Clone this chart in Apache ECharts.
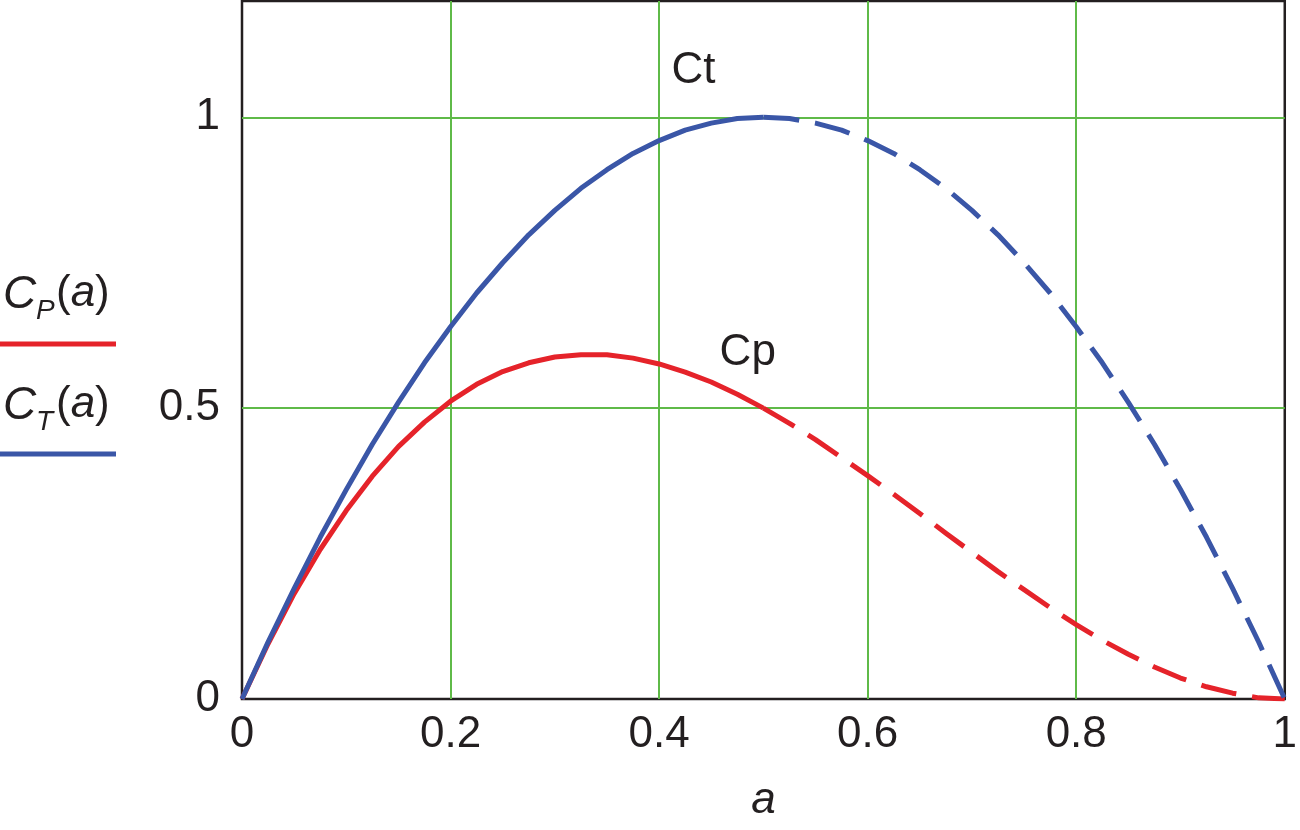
<!DOCTYPE html>
<html lang="en">
<head>
    <meta charset="UTF-8">
    <title>Cp / Ct</title>
    <script src="https://cdn.jsdelivr.net/npm/echarts@6/dist/echarts.min.js"></script>
</head>
<style type="text/css">
    html, body { margin: 0; padding: 0; background: #fff; }
    #main { width: 1300px; height: 830px; }
</style>
<body>
<div id="main"></div>
<script type="text/javascript">
    // values, a = 0 .. 1 step 0.025
    var aVals  = [0, 0.025, 0.05, 0.075, 0.1, 0.125, 0.15, 0.175, 0.2, 0.225, 0.25,
                  0.275, 0.3, 0.325, 0.35, 0.375, 0.4, 0.425, 0.45, 0.475, 0.5,
                  0.525, 0.55, 0.575, 0.6, 0.625, 0.65, 0.675, 0.7, 0.725, 0.75,
                  0.775, 0.8, 0.825, 0.85, 0.875, 0.9, 0.925, 0.95, 0.975, 1];
    var ctVals = [0, 0.098, 0.19, 0.278, 0.36, 0.438, 0.51, 0.578, 0.64, 0.698, 0.75,
                  0.798, 0.84, 0.878, 0.91, 0.938, 0.96, 0.978, 0.99, 0.998, 1.0,
                  0.998, 0.99, 0.978, 0.96, 0.938, 0.91, 0.878, 0.84, 0.798, 0.75,
                  0.698, 0.64, 0.578, 0.51, 0.438, 0.36, 0.278, 0.19, 0.098, 0];
    var cpVals = [0, 0.095, 0.181, 0.257, 0.324, 0.383, 0.434, 0.476, 0.512, 0.541, 0.563,
                  0.578, 0.588, 0.592, 0.592, 0.586, 0.576, 0.562, 0.545, 0.524, 0.5,
                  0.474, 0.446, 0.415, 0.384, 0.352, 0.319, 0.285, 0.252, 0.219, 0.188,
                  0.157, 0.128, 0.101, 0.077, 0.055, 0.036, 0.021, 0.01, 0.002, 0];
    var splitAt = 20; // solid up to a = 0.5, dashed after
    var xTicks = [0, 0.2, 0.4, 0.6, 0.8, 1];
    var yTicks = [0, 0.5, 1];

    var blue = '#3a56a7', red = '#e5232a', green = '#5fba48', ink = '#231f20';
    var font = '"Liberation Sans", Arial, Helvetica, sans-serif';

    function pairs(ys, from, to) {
        var out = [];
        for (var i = from; i <= to; i++) out.push([aVals[i], ys[i]]);
        return out;
    }

    function curve(ys, color, part) {
        var last = aVals.length - 1;
        return {
            type: 'line', smooth: false, symbol: 'none', silent: true,
            data: part === 'solid' ? pairs(ys, 0, splitAt) : pairs(ys, splitAt, last),
            lineStyle: { color: color, width: 5, type: part === 'solid' ? 'solid' : [36, 16], cap: 'butt', join: 'round' },
            z: 3
        };
    }

    var myChart = echarts.init(document.getElementById('main'));
    var ctSolid = curve(ctVals, blue, 'solid');
    ctSolid.markPoint = {
        symbol: 'circle', symbolSize: 0, silent: true,
        label: { show: true, formatter: 'Ct', color: ink, fontSize: 44, fontFamily: font, position: 'inside' },
        data: [{ coord: [0.433, 1.08] }]
    };
    var cpSolid = curve(cpVals, red, 'solid');
    cpSolid.markPoint = {
        symbol: 'circle', symbolSize: 0, silent: true,
        label: { show: true, formatter: 'Cp', color: ink, fontSize: 44, fontFamily: font, position: 'inside' },
        data: [{ coord: [0.485, 0.595] }]
    };

    var legendRich = {
        n: { fontSize: 44, fontFamily: font, color: ink },
        i: { fontSize: 44, fontFamily: font, fontStyle: 'italic', color: ink }
    };

    var option = {
        animation: false,
        backgroundColor: '#fff',
        grid: { left: 242, right: 13, top: 1, bottom: 131, show: true, borderColor: ink, borderWidth: 2.5 },
        xAxis: {
            type: 'value', min: 0, max: 1, interval: 0.2,
            name: 'a', nameLocation: 'middle', nameGap: 80,
            nameTextStyle: { fontSize: 44, fontStyle: 'italic', color: ink, fontFamily: font },
            axisLine: { show: false }, axisTick: { show: false },
            axisLabel: {
                margin: 14, fontSize: 44, color: ink, fontFamily: font,
                formatter: function (v) { var r = Math.round(v * 10) / 10; return xTicks.indexOf(r) >= 0 ? String(r) : ''; }
            },
            splitLine: { show: true, lineStyle: { width: 2, color: ['transparent', green, green, green, green, 'transparent'] } }
        },
        yAxis: {
            type: 'value', min: 0, max: 1.2, interval: 0.5,
            axisLine: { show: false }, axisTick: { show: false },
            axisLabel: {
                margin: 22, fontSize: 44, color: ink, fontFamily: font,
                formatter: function (v) { return yTicks.indexOf(v) >= 0 ? String(v) : ''; }
            },
            splitLine: { show: true, lineStyle: { width: 2, color: ['transparent', green, green, 'transparent'] } }
        },
        graphic: [
            { type: 'text', left: 3, top: 272, style: { text: 'C', font: 'italic 46px ' + font, fill: ink } },
            { type: 'text', left: 36, top: 297, style: { text: 'P', font: 'italic 28px ' + font, fill: ink } },
            { type: 'text', left: 56, top: 272, style: { text: '{n|(}{i|a}{n|)}', fill: ink, rich: legendRich } },
            { type: 'line', shape: { x1: 0, y1: 344, x2: 116, y2: 344 }, style: { stroke: red, lineWidth: 5 } },
            { type: 'text', left: 3, top: 383, style: { text: 'C', font: 'italic 46px ' + font, fill: ink } },
            { type: 'text', left: 36, top: 408, style: { text: 'T', font: 'italic 28px ' + font, fill: ink } },
            { type: 'text', left: 56, top: 383, style: { text: '{n|(}{i|a}{n|)}', fill: ink, rich: legendRich } },
            { type: 'line', shape: { x1: 0, y1: 454, x2: 116, y2: 454 }, style: { stroke: blue, lineWidth: 5 } }
        ],
        series: [
            cpSolid,
            curve(cpVals, red, 'dashed'),
            ctSolid,
            curve(ctVals, blue, 'dashed')
        ]
    };
    myChart.setOption(option);
</script>
</body>
</html>
